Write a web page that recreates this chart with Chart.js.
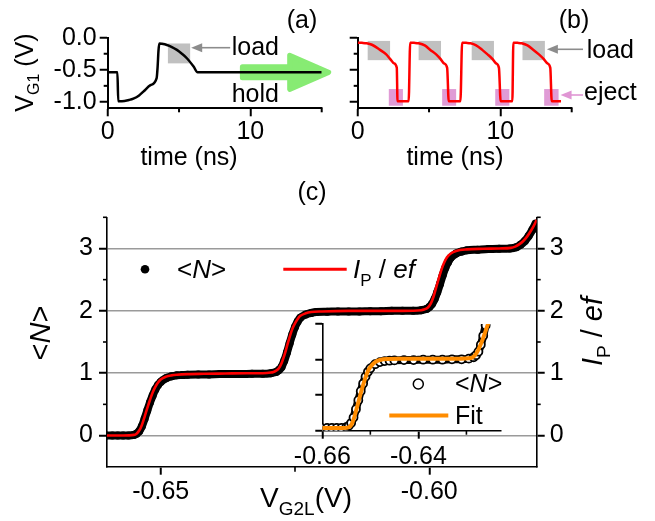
<!DOCTYPE html>
<html><head><meta charset="utf-8">
<script src="https://cdn.jsdelivr.net/npm/chart.js@4.4.1/dist/chart.umd.min.js"></script>
<style>
html,body{margin:0;padding:0;background:#fff;}
#wrap{position:relative;width:655px;height:521px;overflow:hidden;background:#fff;}
#wrap canvas{position:absolute;left:0;top:0;}
</style></head><body>
<div id="wrap">
<canvas id="cA" width="655" height="521"></canvas>
<canvas id="cB" width="655" height="521"></canvas>
<canvas id="cC" width="655" height="521"></canvas>
<canvas id="cI" width="655" height="521"></canvas>
</div>
<script>
// ---------- data: panel (a) ----------
const aTime = [0,0.68,0.74,1.0,1.5,1.8,2.2,2.5,3.0,3.43,3.5,3.56,3.62,3.8,4.15,4.5,4.85,5.2,5.55,6.02,6.3,15];
const aVolt = [-0.54,-0.54,-0.99,-0.99,-0.97,-0.95,-0.9,-0.84,-0.74,-0.63,-0.45,-0.2,-0.09,-0.095,-0.113,-0.145,-0.19,-0.25,-0.32,-0.45,-0.54,-0.54];
const aLoadWindow = [4.22, 5.78];
const aLoadLevel = [-0.09, -0.40];
const aHoldArrow = [9.3, 15.7, -0.54];
const aXTicks = [0, 10], aXMinor = [5, 15];
const aYTicks = [0, -0.5, -1.0], aYMinor = [-0.25, -0.75];

// ---------- data: panel (b) ----------
const bTime = [0,0.3,0.63,1.0,1.57,2.0,2.27,2.55,2.74,2.79,3.57,
  3.68,3.95,4.27,4.7,5.09,5.5,5.8,6.05,6.27,6.38,7.2,
  7.32,7.6,7.91,8.3,8.73,9.1,9.44,9.7,9.9,10.02,10.84,
  10.91,11.2,11.5,11.9,12.32,12.7,13.03,13.3,13.5,13.6,14.25];
const bVolt = [-0.077,-0.08,-0.087,-0.11,-0.19,-0.26,-0.33,-0.40,-0.47,-0.99,-0.99,
  -0.077,-0.08,-0.087,-0.12,-0.19,-0.26,-0.33,-0.40,-0.47,-0.99,-0.99,
  -0.077,-0.08,-0.087,-0.12,-0.19,-0.26,-0.33,-0.40,-0.47,-0.99,-0.99,
  -0.077,-0.08,-0.087,-0.12,-0.19,-0.26,-0.33,-0.40,-0.47,-0.99,-0.99];
const bLoadStart = [0.70, 4.27, 7.99, 11.55];
const bLoadEnd   = [2.27, 5.84, 9.55, 13.12];
const bLoadLevel = [-0.05, -0.35];
const bEjectStart = [2.18, 5.92, 9.64, 13.07];
const bEjectEnd   = [3.17, 6.90, 10.63, 14.08];
const bEjectLevel = [-0.80, -1.06];

// ---------- data: panel (c) ----------
const nV = [-0.6602,-0.659,-0.658,-0.657,-0.656,-0.655,-0.6545,-0.654,-0.6535,-0.653,-0.6525,-0.652,-0.6515,-0.651,-0.6505,-0.65,-0.649,-0.648,-0.647,-0.646,-0.645,-0.643,-0.641,-0.639,-0.637,-0.635,-0.633,-0.631,-0.6295,-0.6285,-0.628,-0.6275,-0.627,-0.6265,-0.626,-0.6255,-0.625,-0.6245,-0.624,-0.623,-0.622,-0.621,-0.619,-0.617,-0.615,-0.613,-0.611,-0.609,-0.607,-0.605,-0.603,-0.6015,-0.6005,-0.6,-0.5995,-0.599,-0.5985,-0.598,-0.5975,-0.597,-0.5965,-0.596,-0.595,-0.594,-0.593,-0.591,-0.589,-0.587,-0.585,-0.5838,-0.583,-0.5822,-0.5815,-0.5808,-0.5802];
const nVal = [0.0,0.0,0.0,0.0,0.0,0.01,0.03,0.07,0.15,0.27,0.4,0.53,0.64,0.74,0.81,0.86,0.92,0.95,0.965,0.97,0.975,0.98,0.98,0.985,0.985,0.985,0.99,0.99,1.0,1.02,1.05,1.1,1.2,1.33,1.48,1.62,1.74,1.83,1.89,1.94,1.965,1.98,1.985,1.99,1.99,1.99,1.995,1.995,2.0,2.0,2.0,2.01,2.03,2.06,2.11,2.19,2.3,2.43,2.57,2.69,2.78,2.85,2.92,2.95,2.97,2.98,2.99,2.995,3.0,3.02,3.06,3.12,3.2,3.3,3.4];
const iV = [-0.6602,-0.657,-0.655,-0.6545,-0.654,-0.6535,-0.653,-0.6525,-0.652,-0.6515,-0.651,-0.6505,-0.65,-0.649,-0.648,-0.647,-0.645,-0.642,-0.638,-0.634,-0.631,-0.6295,-0.629,-0.6285,-0.628,-0.6275,-0.627,-0.6265,-0.626,-0.6255,-0.625,-0.6245,-0.624,-0.623,-0.622,-0.62,-0.615,-0.61,-0.605,-0.6015,-0.601,-0.6003,-0.5997,-0.5992,-0.5987,-0.5982,-0.5977,-0.5972,-0.5967,-0.596,-0.595,-0.593,-0.59,-0.587,-0.5848,-0.584,-0.5832,-0.5825,-0.5818,-0.5811,-0.5805,-0.58];
const iVal = [0.0,0.0,0.01,0.03,0.08,0.17,0.3,0.44,0.57,0.69,0.78,0.85,0.9,0.945,0.965,0.975,0.985,0.99,0.995,1.0,1.0,1.01,1.02,1.04,1.08,1.16,1.28,1.43,1.58,1.71,1.8,1.87,1.92,1.96,1.98,1.99,2.0,2.0,2.0,2.01,2.02,2.05,2.12,2.23,2.38,2.53,2.67,2.78,2.86,2.92,2.96,2.985,2.995,3.0,3.01,3.03,3.07,3.12,3.19,3.28,3.37,3.46];
const cXTicks = [-0.65, -0.60], cXMinor = [-0.625];
const cYTicks = [0, 1, 2, 3], cYMinor = [0.5, 1.5, 2.5, 3.5];

// ---------- data: inset ----------
const fV = [-0.66,-0.6555,-0.6545,-0.654,-0.6535,-0.653,-0.6525,-0.652,-0.6515,-0.651,-0.6505,-0.65,-0.649,-0.648,-0.646,-0.644,-0.64,-0.636,-0.632,-0.629,-0.6285,-0.628,-0.6275,-0.627,-0.6265,-0.626,-0.6255,-0.625,-0.6245];
const fVal = [0.0,0.0,0.01,0.04,0.12,0.24,0.37,0.5,0.62,0.73,0.82,0.88,0.95,0.98,0.995,1.0,1.0,1.0,1.0,1.01,1.03,1.07,1.13,1.21,1.3,1.4,1.5,1.6,1.7];
const insXTicks = [-0.66, -0.64], insXMinor = [-0.65, -0.63];
const insYTicks = [-0.04, 0.473, 0.987, 1.5];

// ---------- helpers ----------
const FONT = "'Liberation Sans', Arial, Helvetica, sans-serif";
function fnt(size, it) { return (it ? 'italic ' : '') + size + 'px ' + FONT; }
function pts(xs, ys) { return xs.map((v, i) => ({x: v, y: ys[i]})); }

function richText(ctx, segs, x, y, o) {
  o = o || {};
  const size = o.size || 25, sub = o.sub || Math.round(size * 0.66), subDy = o.subDy || size * 0.3;
  const f = s => fnt(s.sub ? sub : size, s.it);
  let w = 0;
  for (const s of segs) { ctx.font = f(s); w += ctx.measureText(s.t).width; }
  ctx.save();
  ctx.translate(x, y);
  if (o.rot) ctx.rotate(o.rot);
  ctx.fillStyle = o.color || '#000';
  ctx.textBaseline = 'alphabetic';
  ctx.textAlign = 'left';
  let cx = o.align === 'left' ? 0 : (o.align === 'right' ? -w : -w / 2);
  for (const s of segs) { ctx.font = f(s); ctx.fillText(s.t, cx, s.sub ? subDy : 0); cx += ctx.measureText(s.t).width; }
  ctx.restore();
}

function arrow(ctx, xTail, y, xTip, color, lw, headLen, headHalf) {
  const dir = Math.sign(xTip - xTail);
  ctx.save();
  ctx.strokeStyle = color; ctx.fillStyle = color; ctx.lineWidth = lw;
  ctx.beginPath(); ctx.moveTo(xTail, y); ctx.lineTo(xTip - dir * headLen * 0.8, y); ctx.stroke();
  ctx.beginPath(); ctx.moveTo(xTip, y); ctx.lineTo(xTip - dir * headLen, y - headHalf); ctx.lineTo(xTip - dir * headLen, y + headHalf); ctx.closePath(); ctx.fill();
  ctx.restore();
}

function minorTicks(chart, specs) {
  const ctx = chart.ctx;
  ctx.save(); ctx.strokeStyle = '#000';
  for (const sp of specs) {
    const sc = chart.scales[sp.axis];
    ctx.lineWidth = sp.w || 2;
    for (const v of sp.values) {
      const p = sc.getPixelForValue(v);
      ctx.beginPath();
      if (sc.isHorizontal()) { ctx.moveTo(p, sc.top); ctx.lineTo(p, sc.top + sp.len); }
      else if (sc.position === 'left') { ctx.moveTo(sc.right, p); ctx.lineTo(sc.right - sp.len, p); }
      else { ctx.moveTo(sc.left, p); ctx.lineTo(sc.left + sp.len, p); }
      ctx.stroke();
    }
  }
  ctx.restore();
}

function axis(o) {
  return {
    type: 'linear', position: o.pos, min: o.min, max: o.max,
    afterBuildTicks: s => { s.ticks = o.ticks.map(v => ({value: v})); },
    afterFit: s => { if (o.w != null) s.width = o.w; if (o.h != null) s.height = o.h; },
    ticks: { display: true, autoSkip: false, maxRotation: 0, minRotation: 0, padding: o.pad, color: '#000',
             font: {family: FONT, size: o.fs || 25}, callback: o.fmt },
    grid: { drawOnChartArea: !!o.grid, color: o.gridColor || '#9a9a9a', lineWidth: o.gridW || 1.5,
            drawTicks: true, tickLength: o.tl || 8, tickWidth: o.tw || 2, tickColor: '#000' },
    border: { display: true, color: '#000', width: o.bw || 2 }
  };
}
function baseOpts(pad, scales) {
  return { responsive: false, maintainAspectRatio: false, animation: false, devicePixelRatio: 1,
    layout: { padding: pad }, plugins: { legend: {display: false}, tooltip: {enabled: false} }, scales };
}
const blank = () => '';

// ---------- panel (a) ----------
new Chart(document.getElementById('cA'), {
  type: 'scatter',
  data: { datasets: [{ data: pts(aTime, aVolt), showLine: true, borderColor: '#000', borderWidth: 2.5,
    pointRadius: 0, cubicInterpolationMode: 'monotone', fill: false }] },
  options: baseOpts({left: 47.7, right: 333.3, top: 37.7, bottom: 372.7}, {
    x: axis({pos: 'bottom', min: 0, max: 15, ticks: aXTicks, h: 40, pad: 1, fmt: v => String(v)}),
    y: axis({pos: 'left', min: -1.1, max: 0, ticks: aYTicks, w: 60, pad: 3, fmt: v => v.toFixed(1)})
  }),
  plugins: [{
    id: 'annA',
    beforeDatasetsDraw(chart) {
      const {ctx, scales: {x, y}} = chart;
      ctx.save();
      ctx.fillStyle = '#c0c0c0';
      const x0 = x.getPixelForValue(aLoadWindow[0]), x1 = x.getPixelForValue(aLoadWindow[1]);
      const y0 = y.getPixelForValue(aLoadLevel[0]), y1 = y.getPixelForValue(aLoadLevel[1]);
      ctx.fillRect(x0, y0, x1 - x0, y1 - y0);
      // green hold arrow
      const xs = x.getPixelForValue(aHoldArrow[0]), xt = x.getPixelForValue(aHoldArrow[1]);
      const yc = y.getPixelForValue(aHoldArrow[2]);
      const hb = xt - 42;
      ctx.fillStyle = 'rgb(135,235,115)'; ctx.strokeStyle = 'rgb(135,235,115)';
      ctx.lineWidth = 5; ctx.lineJoin = 'round';
      ctx.beginPath();
      ctx.moveTo(xs + 2, yc - 5.5); ctx.lineTo(hb, yc - 5.5); ctx.lineTo(hb, yc - 17);
      ctx.lineTo(xt - 3, yc); ctx.lineTo(hb, yc + 17); ctx.lineTo(hb, yc + 5.5); ctx.lineTo(xs + 2, yc + 5.5);
      ctx.closePath(); ctx.fill(); ctx.stroke();
      ctx.restore();
    },
    afterDraw(chart) {
      const {ctx, scales: {x, y}} = chart;
      minorTicks(chart, [{axis: 'x', values: aXMinor, len: 4}, {axis: 'y', values: aYMinor, len: 4}]);
      const xe = x.getPixelForValue(aLoadWindow[1]);
      arrow(ctx, xe + 40, 47.7, xe + 1, '#8c8c8c', 1.6, 11, 4.5);
      richText(ctx, [{t: 'load'}], 231.7, 55, {align: 'left'});
      richText(ctx, [{t: 'hold'}], 231.7, 101.5, {align: 'left'});
      richText(ctx, [{t: '(a)'}], 302, 28);
      richText(ctx, [{t: 'time (ns)'}], 189, 165);
      richText(ctx, [{t: 'V'}, {t: 'G1', sub: true}, {t: ' (V)'}], 33, 72.5, {rot: -Math.PI / 2, sub: 16, subDy: 6});
    }
  }]
});

// ---------- panel (b) ----------
new Chart(document.getElementById('cB'), {
  type: 'scatter',
  data: { datasets: [{ data: pts(bTime, bVolt), showLine: true, borderColor: '#ff0000', borderWidth: 2.5,
    pointRadius: 0, cubicInterpolationMode: 'monotone', fill: false }] },
  options: baseOpts({left: 297.7, right: 83.3, top: 37.7, bottom: 372.7}, {
    x: axis({pos: 'bottom', min: 0, max: 15, ticks: aXTicks, h: 40, pad: 1, fmt: v => String(v)}),
    y: axis({pos: 'left', min: -1.1, max: 0, ticks: aYTicks, w: 60, pad: 3, fmt: blank})
  }),
  plugins: [{
    id: 'annB',
    beforeDatasetsDraw(chart) {
      const {ctx, scales: {x, y}} = chart;
      ctx.save();
      ctx.fillStyle = '#c0c0c0';
      const gy0 = y.getPixelForValue(bLoadLevel[0]), gy1 = y.getPixelForValue(bLoadLevel[1]);
      bLoadStart.forEach((s, i) => {
        const x0 = x.getPixelForValue(s), x1 = x.getPixelForValue(bLoadEnd[i]);
        ctx.fillRect(x0, gy0, x1 - x0, gy1 - gy0);
      });
      ctx.fillStyle = 'rgb(224,155,214)';
      const py0 = y.getPixelForValue(bEjectLevel[0]), py1 = y.getPixelForValue(bEjectLevel[1]);
      bEjectStart.forEach((s, i) => {
        const x0 = x.getPixelForValue(s), x1 = x.getPixelForValue(bEjectEnd[i]);
        ctx.fillRect(x0, py0, x1 - x0, py1 - py0);
      });
      ctx.restore();
    },
    afterDraw(chart) {
      const {ctx, scales: {x, y}} = chart;
      minorTicks(chart, [{axis: 'x', values: aXMinor, len: 4}, {axis: 'y', values: aYMinor, len: 4}]);
      const xg = x.getPixelForValue(bLoadEnd[3]);
      arrow(ctx, 583, 49.3, xg + 2, '#8c8c8c', 1.6, 11, 4.5);
      const xp = x.getPixelForValue(bEjectEnd[3]);
      arrow(ctx, 583, 95, xp + 2, 'rgb(224,150,212)', 1.6, 11, 4.5);
      richText(ctx, [{t: 'load'}], 586.7, 58.3, {align: 'left'});
      richText(ctx, [{t: 'eject'}], 584, 99.5, {align: 'left'});
      richText(ctx, [{t: '(b)'}], 574, 28);
      richText(ctx, [{t: 'time (ns)'}], 455, 165);
    }
  }]
});

// ---------- panel (c) main ----------
new Chart(document.getElementById('cC'), {
  type: 'scatter',
  data: { datasets: [
    { data: pts(iV, iVal), showLine: true, borderColor: '#ff0000', borderWidth: 2.6, pointRadius: 0,
      cubicInterpolationMode: 'monotone', fill: false },
    { data: pts(nV, nVal), showLine: true, borderColor: '#000', borderWidth: 8, pointRadius: 4,
      pointBackgroundColor: '#000', pointBorderWidth: 0, cubicInterpolationMode: 'monotone', fill: false }
  ] },
  options: baseOpts({left: 47, right: 58.3, top: 217.3, bottom: 14.3}, {
    x: axis({pos: 'bottom', min: -0.66, max: -0.58, ticks: cXTicks, h: 40, pad: 2, bw: 1.6, fmt: v => v.toFixed(2)}),
    y: axis({pos: 'left', min: -0.5, max: 3.5, ticks: cYTicks, w: 60, pad: 6, bw: 1.6, grid: true, fmt: v => String(v)}),
    y2: axis({pos: 'right', min: -0.5, max: 3.5, ticks: cYTicks, w: 60, pad: 5, bw: 1.6, fmt: v => String(v)})
  }),
  plugins: [{
    id: 'annC',
    afterDraw(chart) {
      const ctx = chart.ctx;
      minorTicks(chart, [{axis: 'x', values: cXMinor, len: 5, w: 1.6}, {axis: 'y', values: cYMinor, len: 4, w: 1.6},
                         {axis: 'y2', values: cYMinor, len: 4, w: 1.6}]);
      richText(ctx, [{t: '(c)'}], 312, 200);
      richText(ctx, [{t: '<'}, {t: 'N', it: true}, {t: '>'}], 50, 333, {rot: -Math.PI / 2, size: 29});
      richText(ctx, [{t: 'I', it: true}, {t: 'P', sub: true}, {t: ' / '}, {t: 'ef', it: true}], 601.5, 331.5,
               {rot: -Math.PI / 2, size: 29, sub: 19, subDy: 8});
      richText(ctx, [{t: 'V'}, {t: 'G2L', sub: true}, {t: '(V)'}], 306, 507, {size: 28, sub: 19, subDy: 8});
      // legend
      ctx.save();
      ctx.fillStyle = '#000';
      ctx.beginPath(); ctx.arc(145, 269.3, 4.3, 0, Math.PI * 2); ctx.fill();
      ctx.strokeStyle = '#ff0000'; ctx.lineWidth = 3;
      ctx.beginPath(); ctx.moveTo(283.3, 269.3); ctx.lineTo(346.7, 269.3); ctx.stroke();
      ctx.restore();
      richText(ctx, [{t: '<'}, {t: 'N', it: true}, {t: '>'}], 177, 278, {align: 'left', size: 26});
      richText(ctx, [{t: 'I', it: true}, {t: 'P', sub: true}, {t: ' / '}, {t: 'ef', it: true}], 353, 278,
               {align: 'left', size: 26, sub: 17, subDy: 8});
    }
  }]
});

// ---------- inset ----------
new Chart(document.getElementById('cI'), {
  type: 'scatter',
  data: { datasets: [
    { data: pts(fV, fVal), showLine: true, borderColor: '#ff8c00', borderWidth: 4, pointRadius: 0,
      cubicInterpolationMode: 'monotone', fill: false },
    { data: pts(nV, nVal), showLine: true, borderColor: '#000', borderWidth: 8, pointRadius: 4,
      pointBackgroundColor: '#fff', pointBorderColor: '#000', pointBorderWidth: 1.8,
      cubicInterpolationMode: 'monotone', fill: false }
  ] },
  options: baseOpts({left: 282.3, right: 154, top: 324, bottom: 50.3}, {
    x: axis({pos: 'bottom', min: -0.66, max: -0.6228, ticks: insXTicks, h: 40, pad: 3, bw: 1.6, fmt: v => v.toFixed(2)}),
    y: axis({pos: 'left', min: -0.04, max: 1.5, ticks: insYTicks, w: 40, pad: 2, bw: 1.6, tl: 7, fmt: blank})
  }),
  plugins: [{
    id: 'annI',
    afterDraw(chart) {
      const ctx = chart.ctx;
      minorTicks(chart, [{axis: 'x', values: insXMinor, len: 4, w: 1.6}]);
      ctx.save();
      ctx.fillStyle = '#fff'; ctx.strokeStyle = '#000'; ctx.lineWidth = 1.5;
      ctx.beginPath(); ctx.arc(418.3, 384, 5, 0, Math.PI * 2); ctx.fill(); ctx.stroke();
      ctx.strokeStyle = '#ff8c00'; ctx.lineWidth = 4;
      ctx.beginPath(); ctx.moveTo(389.3, 415.5); ctx.lineTo(448.3, 415.5); ctx.stroke();
      ctx.restore();
      richText(ctx, [{t: '<'}, {t: 'N', it: true}, {t: '>'}], 455, 392, {align: 'left', size: 25});
      richText(ctx, [{t: 'Fit'}], 455, 424, {align: 'left', size: 25});
    }
  }]
});
</script>
</body></html>
